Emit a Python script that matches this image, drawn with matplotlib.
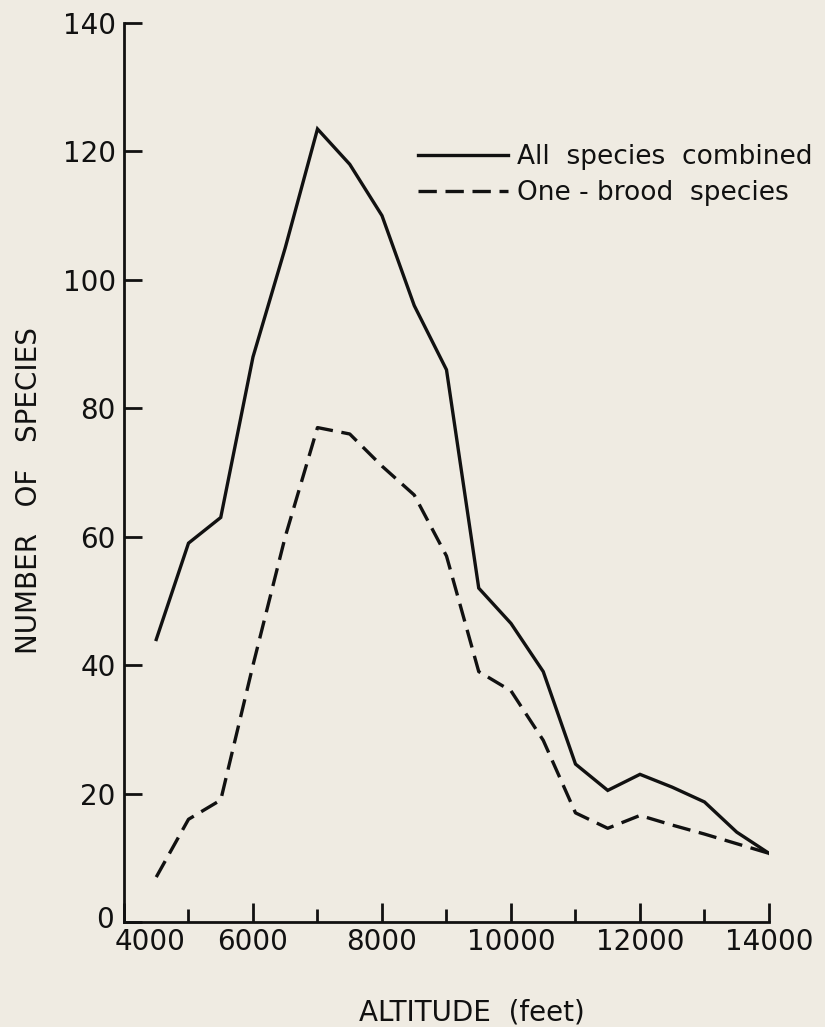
import numpy as np
import matplotlib.pyplot as plt
import matplotlib.transforms as mtransforms

# altitude (feet) and number of species
altitude = [4500, 5000, 5500, 6000, 6500, 7000, 7500, 8000, 8500, 9000,
            9500, 10000, 10500, 11000, 11500, 12000, 12500, 13000, 13500, 14000]
all_species = [44, 59, 63, 88, 105, 123.5, 118, 110, 96, 86,
               52, 46.5, 39, 24.6, 20.5, 23, 21, 18.7, 14, 10.7]
one_brood = [7, 16, 19, 40, 60, 77, 76, 71, 66.5, 57,
             39, 36, 28.3, 17, 14.6, 16.6, 15.1, 13.7, 12.2, 10.7]

x_major = [4000, 6000, 8000, 10000, 12000, 14000]
x_minor = [5000, 7000, 9000, 11000, 13000]
y_ticks = [0, 20, 40, 60, 80, 100, 120, 140]

bg = '#efebe2'
ink = '#111111'

fig = plt.figure(figsize=(8.25, 10.27), dpi=100, facecolor=bg)
ax = fig.add_axes([0.1503, 0.1022, 0.7818, 0.8754])
ax.set_facecolor(bg)

ax.plot(altitude, all_species, color=ink, lw=2.4, solid_joinstyle='miter',
        label='All  species  combined')
ax.plot(altitude, one_brood, color=ink, lw=2.4, dashes=(5.5, 2.6),
        label='One - brood  species')

ax.set_xlim(4000, 14000)
ax.set_ylim(0, 140)

for s in ['top', 'right']:
    ax.spines[s].set_visible(False)
for s in ['left', 'bottom']:
    ax.spines[s].set_linewidth(2.0)
    ax.spines[s].set_color(ink)

ax.set_xticks(x_major)
ax.set_xticks(x_minor, minor=True)
ax.set_yticks(y_ticks)
ax.tick_params(axis='both', which='major', direction='in', width=2.0,
               color=ink, labelcolor=ink, labelsize=20)
ax.tick_params(axis='x', which='major', length=14, pad=4)
ax.tick_params(axis='x', which='minor', direction='in', length=9.5, width=2.0, color=ink)
ax.tick_params(axis='y', which='major', length=13, pad=6)

# the 4000 label sits a little to the right of the corner, the 0 a bit higher
lbl = ax.get_xticklabels()[0]
lbl.set_transform(lbl.get_transform() + mtransforms.ScaledTranslation(26 / 100, 0, fig.dpi_scale_trans))
ylbl = ax.get_yticklabels()[0]
ylbl.set_transform(ylbl.get_transform() + mtransforms.ScaledTranslation(-2 / 100, 5 / 100, fig.dpi_scale_trans))

ax.set_ylabel('NUMBER   OF   SPECIES', fontsize=20, color=ink)
ax.yaxis.set_label_coords(-0.125, 0.48)
ax.set_xlabel('ALTITUDE  (feet)', fontsize=20, color=ink)
ax.xaxis.set_label_coords(0.54, -0.085)

leg = ax.legend(loc='upper left', bbox_to_anchor=(0.507, 0.860), bbox_transform=fig.transFigure,
                frameon=False, fontsize=19, handlelength=3.4, handletextpad=0.35,
                labelspacing=0.39, borderpad=0, borderaxespad=0)
for t in leg.get_texts():
    t.set_color(ink)

fig.savefig('out.png', dpi=100, facecolor=bg)
